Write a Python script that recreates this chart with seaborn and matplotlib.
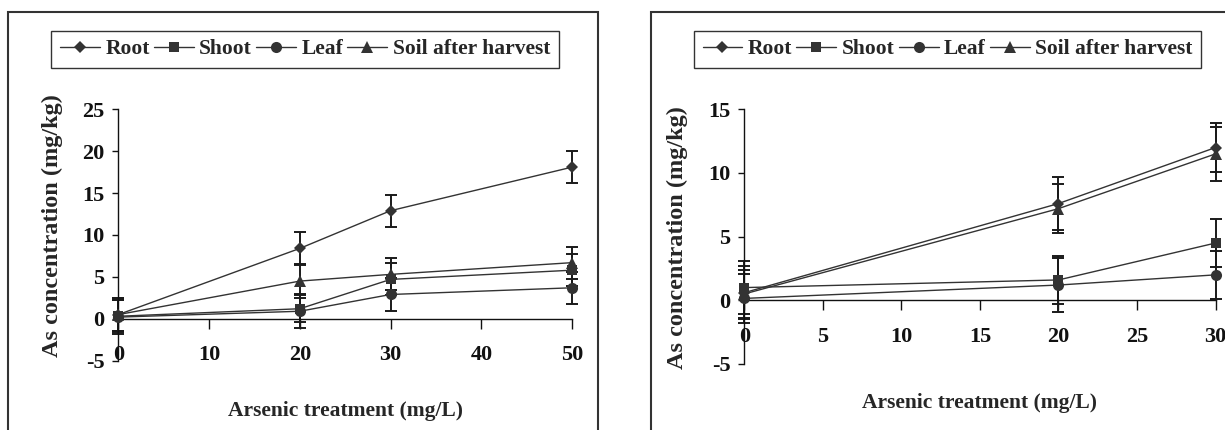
import pandas as pd
import matplotlib.pyplot as plt
import seaborn as sns
from matplotlib.patches import Rectangle

series = ['Root', 'Shoot', 'Leaf', 'Soil after harvest']

# panel a: 0-50 mg/L
dose_a = [0, 20, 30, 50]
root_a = [0.5, 8.4, 12.9, 18.1]
shoot_a = [0.3, 1.2, 4.7, 5.8]
leaf_a = [0.2, 0.9, 2.9, 3.7]
soil_a = [0.5, 4.5, 5.3, 6.7]
root_err_a = [2.0, 2.0, 1.9, 1.9]
shoot_err_a = [1.9, 1.6, 1.9, 1.9]
leaf_err_a = [2.0, 2.0, 2.0, 1.9]
soil_err_a = [2.0, 2.0, 1.9, 1.9]

# panel b: 0-30 mg/L
dose_b = [0, 20, 30]
root_b = [0.6, 7.6, 12.0]
shoot_b = [1.0, 1.6, 4.5]
leaf_b = [0.15, 1.2, 2.0]
soil_b = [0.5, 7.2, 11.5]
root_err_b = [2.1, 2.1, 1.9]
shoot_err_b = [2.1, 1.9, 1.9]
leaf_err_b = [1.9, 2.1, 1.9]
soil_err_b = [1.9, 1.9, 2.1]

markers = {'Root': ('D', 6.3), 'Shoot': ('s', 7.5), 'Leaf': ('o', 8.0), 'Soil after harvest': ('^', 8.5)}
ink = '#333333'

sns.set_theme(style='white')
plt.rcParams['font.family'] = ['Liberation Serif', 'DejaVu Serif']
plt.rcParams['font.weight'] = 'bold'
plt.rcParams['axes.unicode_minus'] = False


def draw_panel(ax, dose, values, errors, xticks, yticks, legend_xy, ylab_xy, xlab_y):
    for name, vals, errs in zip(series, values, errors):
        m, ms = markers[name]
        df = pd.DataFrame({'dose': dose, 'conc': vals})
        sns.lineplot(data=df, x='dose', y='conc', marker=m, markersize=ms, color=ink,
                     markeredgewidth=0, linewidth=1.0, label=name, ax=ax, clip_on=False, zorder=3)
        eb = ax.errorbar(dose, vals, yerr=errs, fmt='none', ecolor='#1a1a1a',
                         elinewidth=1.4, capsize=4, capthick=1.4, zorder=2)
        for art in eb.lines[1] + eb.lines[2]:
            art.set_clip_on(False)

    ax.set_xlim(xticks[0], xticks[-1])
    ax.set_ylim(yticks[0], yticks[-1])
    ax.set_xticks(xticks)
    ax.set_yticks(yticks)
    ax.spines['top'].set_visible(False)
    ax.spines['right'].set_visible(False)
    ax.spines['bottom'].set_position(('data', 0))
    for s in ('left', 'bottom'):
        ax.spines[s].set_color('#111111')
        ax.spines[s].set_linewidth(1.0)
    ax.tick_params(axis='x', direction='out', length=7, width=1, pad=12, labelsize=16, colors='#111111')
    ax.tick_params(axis='y', direction='out', length=4, width=1, pad=6, labelsize=16, colors='#111111')
    ax.tick_params(bottom=True, left=True)

    ax.set_xlabel('Arsenic treatment (mg/L)', fontsize=15.5, fontweight='bold')
    ax.set_ylabel('As concentration (mg/kg)', fontsize=17.5, fontweight='bold')
    ax.xaxis.label.set_va('center')
    ax.yaxis.label.set_va('center')
    ax.xaxis.set_label_coords(0.5, xlab_y)
    ax.yaxis.set_label_coords(*ylab_xy)

    handles, labels = ax.get_legend_handles_labels()
    ax.legend(handles, labels, ncol=4, loc='center', bbox_to_anchor=legend_xy,
              bbox_transform=fig.transFigure, frameon=True, fancybox=False,
              edgecolor=ink, framealpha=1, handlelength=1.85, handletextpad=0.25,
              columnspacing=0.2, borderpad=0.4, prop={'size': 15.5, 'weight': 'bold'})
    ax.get_legend().get_frame().set_linewidth(1.0)


fig = plt.figure(figsize=(12.25, 4.3), dpi=100)

# outer frames around each panel (cut by the page edge)
fig.patches.append(Rectangle((0.0068, -0.1), 0.4816, 1.0728, transform=fig.transFigure,
                             fill=False, edgecolor=ink, linewidth=1.5, clip_on=False))
fig.patches.append(Rectangle((0.5312, -0.1), 0.6, 1.0728, transform=fig.transFigure,
                             fill=False, edgecolor=ink, linewidth=1.5, clip_on=False))

ax1 = fig.add_axes([0.0966, 0.1612, 0.3704, 0.5846])
ax2 = fig.add_axes([0.6076, 0.1535, 0.3847, 0.5923])
for ax in (ax1, ax2):
    ax.patch.set_alpha(0)

draw_panel(ax1, dose_a,
           [root_a, shoot_a, leaf_a, soil_a],
           [root_err_a, shoot_err_a, leaf_err_a, soil_err_a],
           [0, 10, 20, 30, 40, 50], [-5, 0, 5, 10, 15, 20, 25],
           (0.249, 0.885), (-0.146, 0.536), -0.2)
draw_panel(ax2, dose_b,
           [root_b, shoot_b, leaf_b, soil_b],
           [root_err_b, shoot_err_b, leaf_err_b, soil_err_b],
           [0, 5, 10, 15, 20, 25, 30], [-5, 0, 5, 10, 15],
           (0.7735, 0.885), (-0.143, 0.497), -0.153)

fig.savefig('out.png', dpi=100, facecolor='white')
